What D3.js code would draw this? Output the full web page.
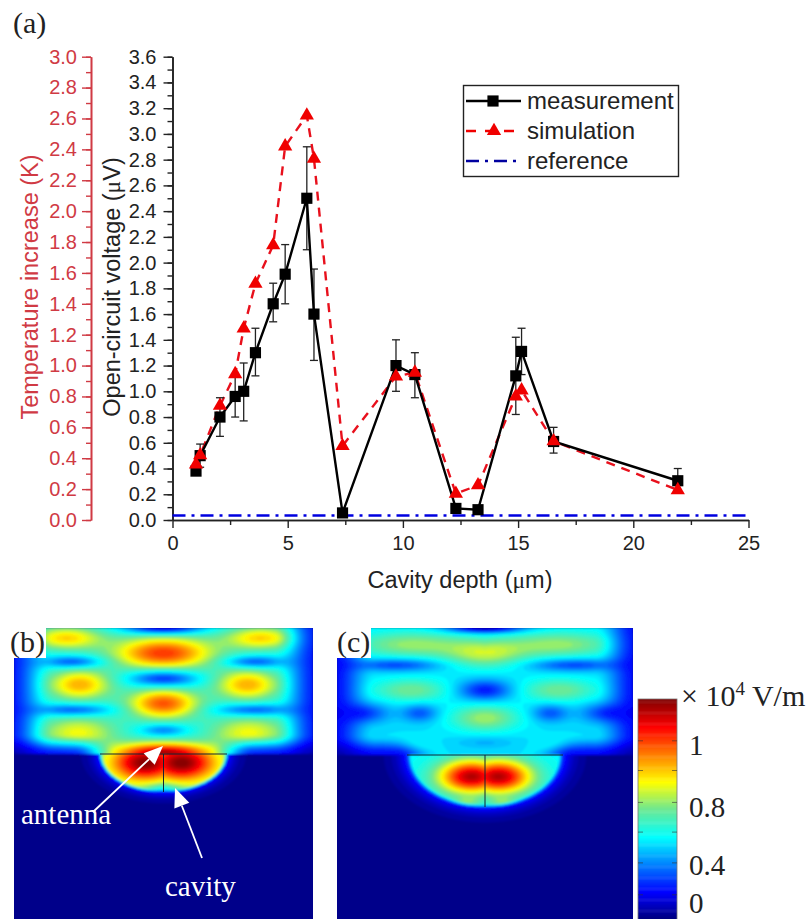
<!DOCTYPE html>
<html>
<head>
<meta charset="utf-8">
<script src="https://cdn.jsdelivr.net/npm/d3@7"></script>
<style>
body { margin: 0; background: #fff; }
svg { display: block; }
text { font-family: "Liberation Sans", Arial, sans-serif; }
.serif { font-family: "Liberation Serif", "Times New Roman", serif; }
</style>
</head>
<body>
<script>
// values
var depth     = [1.02, 1.2, 2.06, 2.72, 3.09, 3.6, 4.37, 4.89, 5.83, 6.14, 7.38, 9.7, 10.52, 12.3, 13.26, 14.9, 15.15, 16.54, 21.93];
var measured  = [0.38, 0.5, 0.8, 0.96, 1.0, 1.3, 1.68, 1.91, 2.5, 1.6, 0.055, 1.2, 1.13, 0.09, 0.08, 1.12, 1.31, 0.61, 0.305];
var errLow    = [0.38, 0.41, 0.65, 0.8, 0.77, 1.12, 1.54, 1.68, 2.1, 1.24, 0.055, 1.0, 0.95, 0.09, 0.08, 0.82, 1.13, 0.52, 0.21];
var errHigh   = [0.38, 0.59, 0.95, 1.12, 1.22, 1.49, 1.84, 2.14, 2.9, 1.95, 0.055, 1.4, 1.3, 0.09, 0.08, 1.42, 1.49, 0.72, 0.4];
var simulated = [0.36, 0.42, 0.74, 0.945, 1.24, 1.53, 1.78, 2.42, 2.62, 2.34, 0.48, 0.93, 0.955, 0.17, 0.225, 0.8, 0.84, 0.51, 0.194];
var referenceLevel = 0.035;
var referenceX = [0, 25];

var voltTicks = d3.range(0, 3.61, 0.2);
var voltMinor = d3.range(0, 3.61, 0.1);
var tempTicks = d3.range(0, 3.01, 0.2);
var tempMinor = d3.range(0, 3.01, 0.1);
var depthTicks = [0, 5, 10, 15, 20, 25];
var depthMinor = [2.5, 7.5, 12.5, 17.5, 22.5];
var legendNames = ['measurement', 'simulation', 'reference'];

// field maps: lobes as [u, v, width u, width v, amplitude], u from panel centre, v from top (1 = interface)
var lobesB = [
  [0, .20, .33, .13, .44], [0, .60, .23, .12, .41], [.56, .45, .21, .12, .32], [.65, .08, .24, .09, .28],
  [.57, .83, .26, .13, .23], [0, .40, .22, .07, -.26], [0, 0, .25, .05, -.32], [0, .81, .15, .05, -.15],
  [.6, .27, .2, .05, -.2], [.6, .65, .25, .05, -.2], [0, 1, .34, .09, .6]
];
var cavityLobesB = [[.12, 1.07, .22, .14, .5], [0, 1.3, .12, .06, -.2]];
var lobesC = [
  [0, .2, .27, .11, .22], [.5, .13, .38, .1, .19], [.5, .49, .25, .09, .16], [0, .49, .18, .08, -.2],
  [0, .71, .22, .1, .2], [.82, .67, .16, .08, -.17], [.44, .67, .12, .07, -.14], [.6, .29, .3, .05, -.16],
  [0, 0, .25, .04, -.3], [.48, .93, .12, .06, .08], [0, .9, .2, .05, -.05]
];
var cavityLobesC = [[.09, 1.17, .22, .13, .58], [.12, 1.37, .1, .04, .1]];

var jetStops = [0, .12, .37, .5, .62, .87, 1];
var jetColors = ['#00007f', '#0000ff', '#00ffff', '#70e890', '#ffff00', '#ff0000', '#7f0000'];
var barLabels = ['1', '0.8', '0.4', '0'];
var barLabelAt = [.79, .51, .245, .073];
var barTicks = [.81, .675, .53, .395, .255, .11];

var ink = '#222';
var red = '#d03a44';

var svg = d3.select('body').append('svg').attr('width', 809).attr('height', 919);

var x = d3.scaleLinear().domain([0, 25]).range([172.5, 748.5]);
var yVolt = d3.scaleLinear().domain([0, 3.6]).range([520, 56.7]);
var yTemp = d3.scaleLinear().domain([0, 3]).range([520, 56.7]);

function axisStyle(g, color) {
  g.selectAll('path').attr('stroke', color).attr('stroke-width', 1.6);
  g.selectAll('line').attr('stroke', color).attr('stroke-width', 1.4);
  g.selectAll('text').attr('fill', color).style('font-size', '20px')
    .style('font-family', '"Liberation Sans", Arial, sans-serif');
}

// red axis
svg.append('g').attr('transform', 'translate(91,0)')
  .call(d3.axisLeft(yTemp).tickValues(tempMinor).tickSize(5).tickSizeOuter(0).tickFormat(''))
  .call(axisStyle, red);
svg.append('g').attr('transform', 'translate(91,0)')
  .call(d3.axisLeft(yTemp).tickValues(tempTicks).tickSize(9).tickSizeOuter(0).tickPadding(5).tickFormat(d3.format('.1f')))
  .call(axisStyle, red);

// black axes
svg.append('g').attr('transform', 'translate(172.5,0)')
  .call(d3.axisLeft(yVolt).tickValues(voltMinor).tickSize(5).tickSizeOuter(0).tickFormat(''))
  .call(axisStyle, ink);
svg.append('g').attr('transform', 'translate(172.5,0)')
  .call(d3.axisLeft(yVolt).tickValues(voltTicks).tickSize(9).tickSizeOuter(0).tickPadding(7).tickFormat(d3.format('.1f')))
  .call(axisStyle, ink);
svg.append('g').attr('transform', 'translate(0,520)')
  .call(d3.axisBottom(x).tickValues(depthMinor).tickSize(5).tickSizeOuter(0).tickFormat(''))
  .call(axisStyle, ink);
svg.append('g').attr('transform', 'translate(0,520)')
  .call(d3.axisBottom(x).tickValues(depthTicks).tickSize(8).tickSizeOuter(0).tickPadding(8))
  .call(axisStyle, ink);

function axisTitle(px, py, rotate, color, before, after) {
  var t = svg.append('text')
    .attr('transform', 'translate(' + px + ',' + py + ')' + (rotate ? ' rotate(-90)' : ''))
    .attr('text-anchor', 'middle').attr('fill', color).style('font-size', '23.5px');
  t.append('tspan').text(before);
  if (after) {
    t.append('tspan').attr('class', 'serif').text('\u03bc');
    t.append('tspan').text(after);
  }
}
axisTitle(38, 287, true, red, 'Temperature increase (K)');
axisTitle(120, 287, true, ink, 'Open-circuit voltage (', 'V)');
axisTitle(460, 588, false, ink, 'Cavity depth (', 'm)');

svg.append('text').attr('class', 'serif').attr('x', 13).attr('y', 33).attr('fill', ink)
  .style('font-size', '30px').text('(a)');

// reference line
svg.append('line')
  .attr('x1', x(referenceX[0])).attr('x2', x(referenceX[1]))
  .attr('y1', yVolt(referenceLevel)).attr('y2', yVolt(referenceLevel))
  .attr('stroke', '#0000e0').attr('stroke-width', 2.4).attr('stroke-dasharray', '13,6,3,6');

// simulation line
var simLine = d3.line().x(function (d, i) { return x(depth[i]); }).y(function (d) { return yTemp(d); });
svg.append('path').datum(simulated).attr('d', simLine)
  .attr('fill', 'none').attr('stroke', '#e8101c').attr('stroke-width', 2.4).attr('stroke-dasharray', '9,7');

// error bars
var bars = svg.append('g').selectAll('g').data(depth).enter().append('g')
  .filter(function (d, i) { return errHigh[i] > errLow[i]; });
bars.append('line')
  .attr('x1', function (d) { return x(d); }).attr('x2', function (d) { return x(d); })
  .attr('y1', function (d) { return yVolt(errLow[depth.indexOf(d)]); })
  .attr('y2', function (d) { return yVolt(errHigh[depth.indexOf(d)]); })
  .attr('stroke', ink).attr('stroke-width', 1.3);
[errLow, errHigh].forEach(function (arr) {
  bars.append('line')
    .attr('x1', function (d) { return x(d) - 4; }).attr('x2', function (d) { return x(d) + 4; })
    .attr('y1', function (d) { return yVolt(arr[depth.indexOf(d)]); })
    .attr('y2', function (d) { return yVolt(arr[depth.indexOf(d)]); })
    .attr('stroke', ink).attr('stroke-width', 1.3);
});

// measurement line and markers
var measLine = d3.line().x(function (d, i) { return x(depth[i]); }).y(function (d) { return yVolt(d); });
svg.append('path').datum(measured).attr('d', measLine)
  .attr('fill', 'none').attr('stroke', '#000').attr('stroke-width', 2.4);

var square = d3.symbol().type(d3.symbolSquare).size(125);
var triangle = d3.symbol().type(d3.symbolTriangle).size(88);

svg.append('g').selectAll('path').data(measured).enter().append('path')
  .attr('d', square)
  .attr('transform', function (d, i) { return 'translate(' + x(depth[i]) + ',' + yVolt(d) + ')'; })
  .attr('fill', '#000');
svg.append('g').selectAll('path').data(simulated).enter().append('path')
  .attr('d', triangle)
  .attr('transform', function (d, i) { return 'translate(' + x(depth[i]) + ',' + yTemp(d) + ')'; })
  .attr('fill', '#f00000');

// legend
var legend = svg.append('g');
legend.append('rect').attr('x', 463.5).attr('y', 85.5).attr('width', 215).attr('height', 91)
  .attr('fill', '#fff').attr('stroke', ink).attr('stroke-width', 1.4);
var legendStyles = [
  { color: '#000', dash: null },
  { color: '#f00000', dash: '10,9' },
  { color: '#0000a0', dash: '13,6,3,6' }
];
legendNames.forEach(function (name, i) {
  var y = 101 + i * 30;
  legend.append('line').attr('x1', 466).attr('x2', 521).attr('y1', y).attr('y2', y)
    .attr('stroke', legendStyles[i].color).attr('stroke-width', 2.4)
    .attr('stroke-dasharray', legendStyles[i].dash);
  if (i == 0) legend.append('path').attr('d', square).attr('transform', 'translate(493,' + y + ')').attr('fill', '#000');
  if (i == 1) legend.append('path').attr('d', triangle).attr('transform', 'translate(494,' + y + ')').attr('fill', '#f00000');
  legend.append('text').attr('x', 527).attr('y', y + 7.5).attr('fill', ink)
    .style('font-size', '24px').text(name);
});

// jet colour scale
var jet = d3.scaleLinear().domain(jetStops).range(jetColors).clamp(true);
var blur = svg.append('defs').append('filter').attr('id', 'soft');
blur.append('feGaussianBlur').attr('stdDeviation', 0.8);

function smooth(a, b, t) {
  var s = Math.max(0, Math.min(1, (t - a) / (b - a)));
  return s * s * (3 - 2 * s);
}

function lobeSum(lobes, u, v) {
  var sum = 0;
  lobes.forEach(function (l) {
    var du = (Math.abs(u) - l[0]) / l[2];
    var dv = (v - l[1]) / l[3];
    sum += l[4] * Math.exp(-du * du - dv * dv);
  });
  return sum;
}

function fieldPanel(p) {
  var clipId = 'clip' + p.name;
  svg.append('clipPath').attr('id', clipId).append('rect')
    .attr('x', p.left).attr('y', p.top).attr('width', p.width).attr('height', p.height);
  var g = svg.append('g').attr('clip-path', 'url(#' + clipId + ')');
  var inner = g.append('g').attr('filter', 'url(#soft)');
  inner.append('rect').attr('x', p.left - 3).attr('y', p.top - 3)
    .attr('width', p.width + 6).attr('height', p.height + 6).attr('fill', jet(0.01));

  var u = d3.scaleLinear().domain([p.left, p.left + p.width]).range([-p.width / 2 / p.unit, p.width / 2 / p.unit]);
  var v = d3.scaleLinear().domain([p.top, p.iface]).range([0, 1]);
  var values = [];
  for (var j = 0; j < p.height; j++) {
    for (var i = 0; i < p.width; i++) {
      var px = p.left + i + 0.5, py = p.top + j + 0.5;
      var uu = u(px), vv = v(py);
      var val;
      if (py < p.iface) {
        var env = (1 - 0.62 * smooth(.74, 1.02, Math.abs(uu))) * (1 - 0.65 * smooth(.84, 1.0, vv) * smooth(.3, .6, Math.abs(uu)));
        val = env * (p.base + lobeSum(p.lobes, uu, vv));
      } else {
        var e = Math.hypot((px - p.cavX) / p.cavRx, (py - p.iface) / p.cavRy);
        if (e < 1) {
          val = p.cavBase + lobeSum(p.cavLobes, uu, vv) - 0.2 * smooth(.94, 1, e);
        } else {
          val = 0.16 * Math.exp(-(e - 1) * 7);
        }
      }
      values.push(Math.max(0, Math.min(1, val)));
    }
  }
  var levels = d3.range(0.02, 1, 0.02);
  var contours = d3.contours().size([p.width, p.height]).thresholds(levels)(values);
  inner.append('g').attr('transform', 'translate(' + p.left + ',' + p.top + ')')
    .selectAll('path').data(contours).enter().append('path')
    .attr('d', d3.geoPath())
    .attr('fill', function (d) { return jet(d.value + 0.01); });

  // chord and centre line of the antenna
  g.append('line').attr('x1', p.cavX - p.cavRx).attr('x2', p.cavX + p.cavRx)
    .attr('y1', p.iface).attr('y2', p.iface).attr('stroke', '#123').attr('stroke-width', 1);
  g.append('line').attr('x1', p.cavX).attr('x2', p.cavX)
    .attr('y1', p.iface).attr('y2', p.iface + p.cavRy).attr('stroke', '#123').attr('stroke-width', 1);

  // label patch
  svg.append('rect').attr('x', p.patchX).attr('y', p.top - 2).attr('width', p.patch).attr('height', 32).attr('fill', '#fff');
  svg.append('text').attr('class', 'serif').attr('x', p.labelX).attr('y', 652).attr('fill', ink)
    .style('font-size', '30px').text('(' + p.name + ')');
}

fieldPanel({ name: 'b', left: 14, top: 628, width: 299, height: 291, iface: 754, unit: 150, base: .38,
  lobes: lobesB, cavLobes: cavityLobesB, cavBase: .5, cavX: 163.5, cavRx: 63.5, cavRy: 38, patchX: 10, patch: 36, labelX: 10 });
fieldPanel({ name: 'c', left: 337, top: 628, width: 296, height: 291, iface: 755, unit: 148, base: .34,
  lobes: lobesC, cavLobes: cavityLobesC, cavBase: .37, cavX: 485, cavRx: 78, cavRy: 52, patchX: 337, patch: 34, labelX: 337 });

// arrows in panel b
function arrow(x1, y1, x2, y2) {
  var a = Math.atan2(y2 - y1, x2 - x1), len = 19, half = 8;
  var bx = x2 - len * Math.cos(a), by = y2 - len * Math.sin(a);
  svg.append('line').attr('x1', x1).attr('y1', y1).attr('x2', bx).attr('y2', by)
    .attr('stroke', '#fff').attr('stroke-width', 1.8);
  svg.append('path').attr('fill', '#fff').attr('d', d3.line()([
    [x2, y2],
    [bx + half * Math.sin(a), by - half * Math.cos(a)],
    [bx - half * Math.sin(a), by + half * Math.cos(a)]
  ]) + 'Z');
}
arrow(93, 812, 163, 746);
arrow(202, 858, 175, 788);
svg.append('text').attr('class', 'serif').attr('x', 21).attr('y', 824).attr('fill', '#fff')
  .style('font-size', '29px').text('antenna');
svg.append('text').attr('class', 'serif').attr('x', 165).attr('y', 896).attr('fill', '#fff')
  .style('font-size', '29px').text('cavity');

// colour bar
var barY = d3.scaleLinear().domain([0, 1]).range([919, 699]);
svg.append('g').selectAll('rect').data(d3.range(0, 1, 0.005)).enter().append('rect')
  .attr('x', 638).attr('width', 39)
  .attr('y', function (d) { return barY(d + 0.005); })
  .attr('height', barY(0) - barY(0.005) + 0.5)
  .attr('fill', function (d) { return jet(d); });
svg.append('rect').attr('x', 638).attr('y', 699).attr('width', 39).attr('height', 222)
  .attr('fill', 'none').attr('stroke', '#777').attr('stroke-width', 0.8);
[638, 672].forEach(function (tx) {
  svg.append('g').selectAll('line').data(barTicks).enter().append('line')
    .attr('x1', tx).attr('x2', tx + 5)
    .attr('y1', function (d) { return barY(d); }).attr('y2', function (d) { return barY(d); })
    .attr('stroke', '#333').attr('stroke-opacity', 0.6).attr('stroke-width', 1);
});
svg.append('g').selectAll('text').data(barLabels).enter().append('text')
  .attr('class', 'serif').attr('x', 689)
  .attr('y', function (d, i) { return barY(barLabelAt[i]) + 10; })
  .attr('fill', ink).style('font-size', '29px').text(function (d) { return d; });

var unitText = svg.append('text').attr('class', 'serif').attr('x', 681).attr('y', 706)
  .attr('fill', ink).style('font-size', '30px');
unitText.append('tspan').text('\u00d7 10');
unitText.append('tspan').attr('dy', -11).style('font-size', '19px').text('4');
unitText.append('tspan').attr('dy', 11).text(' V/m');
</script>
</body>
</html>
